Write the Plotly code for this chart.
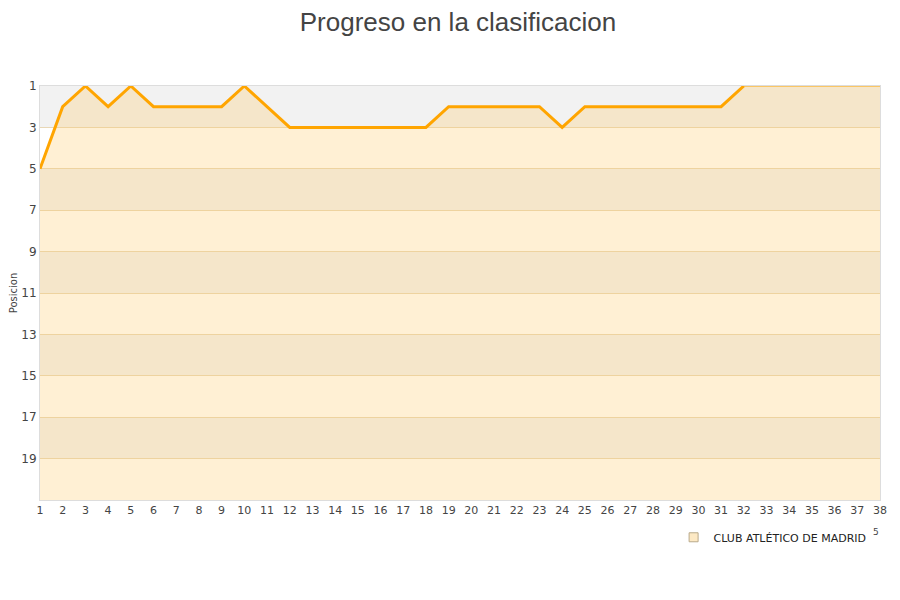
import plotly.graph_objects as go

# jornadas y posición en la tabla
jornadas = list(range(1, 33))
posicion = [5, 2, 1, 2, 1, 2, 2, 2, 2, 1, 2, 3, 3, 3, 3, 3, 3, 3, 2, 2,
            2, 2, 2, 3, 2, 2, 2, 2, 2, 2, 2, 1]
# resto de la temporada, plano en la posición final
jornadas_resto = list(range(32, 39))
posicion_resto = [1, 1, 1, 1, 1, 1, 1]

y_ticks = list(range(1, 20, 2))
bandas = [(1, 3), (5, 7), (9, 11), (13, 15), (17, 19)]

fig = go.Figure()

# relleno bajo la línea hasta el fondo (posición 21)
x_fill = jornadas + jornadas_resto[1:]
y_fill = posicion + posicion_resto[1:]
fig.add_trace(go.Scatter(
    x=x_fill + x_fill[::-1], y=y_fill + [21] * len(x_fill),
    fill="toself", fillcolor="rgba(255,200,100,0.28)",
    line=dict(width=0), hoverinfo="skip", showlegend=False,
))
fig.add_trace(go.Scatter(
    x=jornadas_resto, y=posicion_resto, mode="lines",
    line=dict(color="#ffa500", width=1.2), showlegend=False,
))
fig.add_trace(go.Scatter(
    x=jornadas, y=posicion, mode="lines",
    line=dict(color="#ffa500", width=3), showlegend=False,
))
# entrada de leyenda
fig.add_trace(go.Scatter(
    x=[None], y=[None], mode="markers", name="CLUB ATLÉTICO DE MADRID",
    marker=dict(symbol="square", size=9, color="#fde9c4",
                line=dict(color="#b9a98a", width=1)),
))

for y0, y1 in bandas:
    fig.add_shape(type="rect", xref="paper", x0=0, x1=1, y0=y0, y1=y1,
                  fillcolor="#f2f2f2", line_width=0, layer="below")

# resto de etiqueta cortada bajo el eje
fig.add_annotation(text="5", xref="paper", yref="paper", x=1.001, y=-0.094,
                   showarrow=False, font=dict(size=9, color="#444444"))

# la página añade 8 px de margen al cuerpo, de ahí los márgenes
fig.update_layout(
    width=900, height=600,
    plot_bgcolor="white", paper_bgcolor="white",
    margin=dict(l=32, r=28, t=78, b=108),
    title=dict(text="Progreso en la clasificacion", x=0.5, xanchor="center",
               y=0.992, yanchor="top",
               font=dict(family="Liberation Sans", size=26, color="#444444")),
    font=dict(family="DejaVu Sans", size=11, color="#444444"),
    xaxis=dict(range=[1, 38], tickvals=list(range(1, 39)), showgrid=False,
               zeroline=False, showline=True, linecolor="#dddddd", mirror=True,
               ticks="", automargin=False,
               tickfont=dict(size=11, color="#444444")),
    yaxis=dict(range=[21, 1], tickvals=y_ticks, showgrid=True,
               gridcolor="#e8d7b6", zeroline=False, showline=True,
               linecolor="#dddddd", mirror=True, ticks="", automargin=False,
               tickfont=dict(size=12, color="#444444"),
               title=dict(text="Posicion", font=dict(size=10, color="#444444"),
                          standoff=4)),
    legend=dict(orientation="h", x=0.99, xanchor="right", y=-0.055,
                yanchor="top", font=dict(size=11, color="#222222"),
                bgcolor="rgba(0,0,0,0)"),
)

fig.write_html("out.html")
